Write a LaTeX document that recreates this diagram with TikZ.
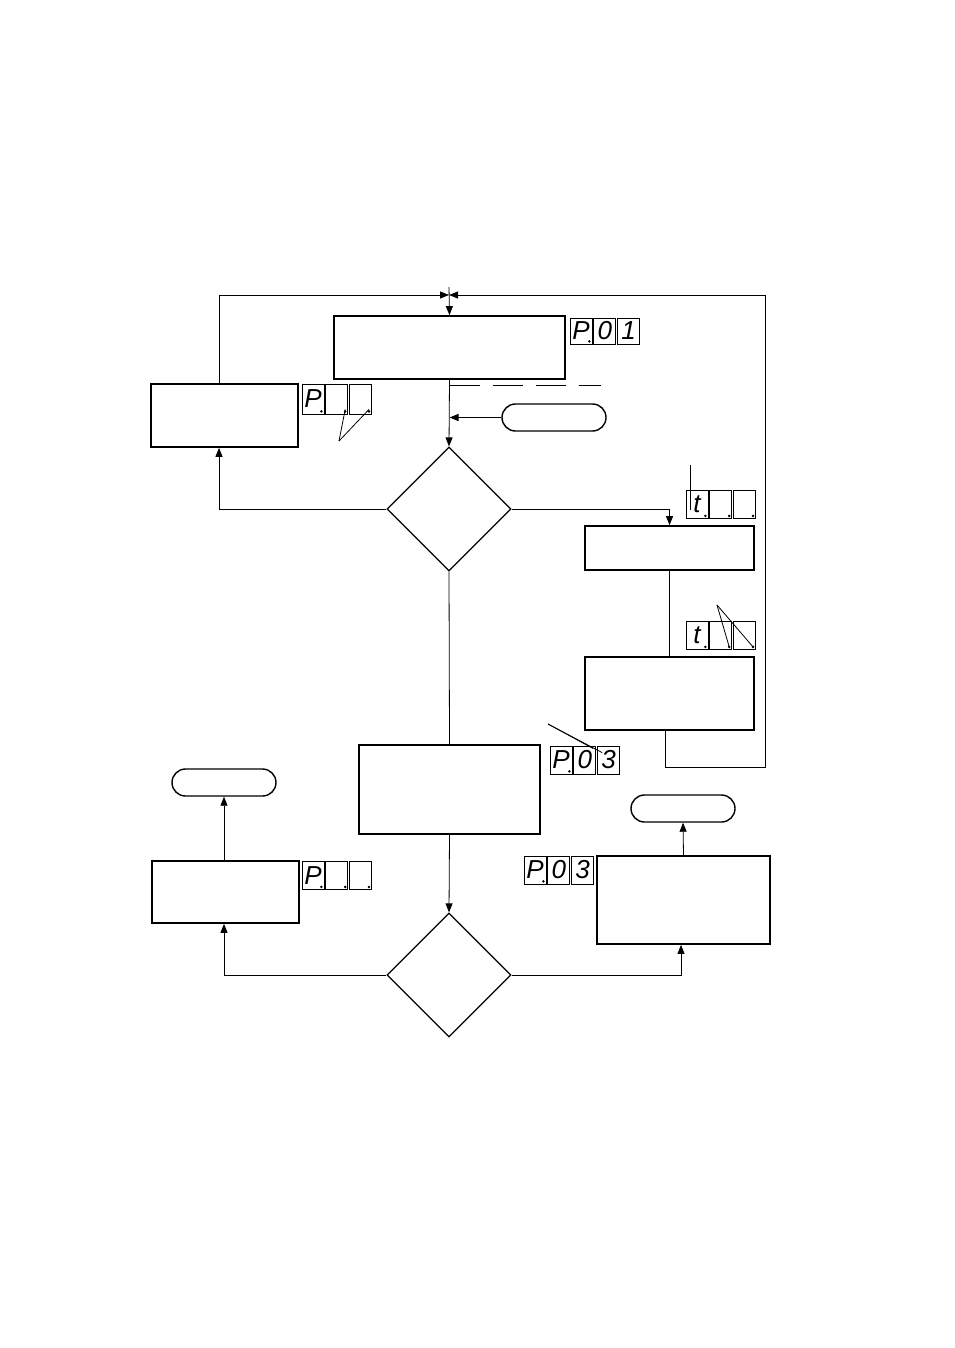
\documentclass[tikz,border=0pt]{standalone}
\usepackage{fontspec}
\setsansfont{Liberation Sans}
\usetikzlibrary{shapes.geometric,shapes.misc,arrows.meta,positioning}

\begin{document}
\begin{tikzpicture}[
  x=1pt, y=-1pt,
  box/.style={draw, line width=1.7pt, inner sep=0},
  decision/.style={diamond, draw, line width=1.2pt, aspect=1,
    minimum width=124, minimum height=124, inner sep=0},
  pill/.style={rounded rectangle, draw, line width=1.4pt,
    minimum width=104, minimum height=27, inner sep=0},
  seg/.style={draw, line width=0.8pt, minimum width=22, minimum height=28,
    inner sep=0, font=\fontsize{26}{26}\selectfont\sffamily\itshape},
  arr/.style={-{Triangle[length=9pt,width=7pt]}, line width=0.8pt},
  line/.style={line width=0.8pt}
]
  \useasboundingbox (0,0) rectangle (954,1348);

  % boxes
  \node[box, minimum width=231, minimum height=63] (start) at (449.5,347.5) {};
  \node[box, minimum width=147, minimum height=63] (back) at (224.5,415.5) {};
  \node[box, minimum width=169, minimum height=44] (set1) at (669.5,548) {};
  \node[box, minimum width=169, minimum height=73] (set2) at (669.5,693.5) {};
  \node[box, minimum width=181, minimum height=89] (mid) at (449.5,789.5) {};
  \node[box, minimum width=147, minimum height=62] (fail) at (225.5,892) {};
  \node[box, minimum width=173, minimum height=88] (done) at (683.5,900) {};
  \node[decision] (dec1) at (449,509) {};
  \node[decision] (dec2) at (449,975) {};
  \node[pill] (key) at (554,417.5) {};
  \node[pill] (lend) at (224,782.5) {};
  \node[pill] (rend) at (683,808.5) {};

  % displays
  \node[seg, minimum height=26] (pa) at (581,331) {P};
  \node[seg, minimum height=26, right=1 of pa] (pb) {0};
  \node[seg, minimum height=26, right=1 of pb] (pc) {1};
  \node[seg, minimum height=30] (qa) at (313,399) {P};
  \node[seg, minimum height=30, right=1 of qa] (qb) {};
  \node[seg, minimum height=30, right=1 of qb] (qc) {};
  \node[seg] (ta) at (697,504.5) {t};
  \node[seg, right=1 of ta] (tb) {};
  \node[seg, right=1 of tb] (tc) {};
  \node[seg] (ua) at (697,635.5) {t};
  \node[seg, right=1 of ua] (ub) {};
  \node[seg, right=1 of ub] (uc) {};
  \node[seg] (ra) at (561,760) {P};
  \node[seg, right=1 of ra] (rb) {0};
  \node[seg, right=1 of rb] (rc) {3};
  \node[seg] (sa) at (313,875.5) {P};
  \node[seg, right=1 of sa] (sb) {};
  \node[seg, right=1 of sb] (sc) {};
  \node[seg] (va) at (535,870) {P};
  \node[seg, right=1 of va] (vb) {0};
  \node[seg, right=1 of vb] (vc) {3};
  \foreach \c in {pa,qa,qb,qc,ta,tb,tc,ua,ub,uc,ra,sa,sb,sc,va}
    \fill ([shift={(-3,-3)}]\c.south east) circle (1.4);

  % pointers
  \coordinate (qp) at (339,441);
  \draw[line] (qp) -- ([shift={(-3,-5)}]qb.south east);
  \draw[line] (qp) -- ([shift={(-3,-5)}]qc.south east);
  \coordinate (tp) at (690,465);
  \draw[line] (tp) -- (690,510);
  \coordinate (up) at (717,605);
  \draw[line] (up) -- ([shift={(-3,-3)}]ub.south east);
  \draw[line] (up) -- ([shift={(-3,-3)}]uc.south east);
  \coordinate (rp) at (548,724);
  \draw[line] (rp) -- ([shift={(-4,3)}]rc.north west);
  \draw[line] (rp) -- ([shift={(5,7)}]rc.north west);

  % connectors
  \coordinate (merge) at (449,295);
  \coordinate (rloop) at (765,767);
  \draw[arr] ([xshift=-5.5pt]back.north) |- (merge);
  \draw[arr] ([xshift=-4.5pt]set2.south) |- (rloop) |- (merge);
  \draw[arr] ([yshift=8pt]merge) -- (start.north);
  \draw[arr] (start.south) -- (dec1.north);
  \draw[line, dash pattern=on 30pt off 13pt] ([yshift=-6pt]start.south) -- ++(151,0);
  \draw[arr] (key.west) -- (key.west -| start.south);
  \draw[arr] (dec1.west) -| ([xshift=-5.5pt]back.south);
  \draw[arr] (dec1.east) -| (set1.north);
  \draw[line] (set1.south) -- (set2.north);
  \draw[line] (dec1.south) -- (mid.north);
  \draw[arr] (mid.south) -- (dec2.north);
  \draw[arr] (dec2.west) -| ([xshift=-1.5pt]fail.south);
  \draw[arr] ([xshift=-1.5pt]fail.north) -- (lend.south);
  \draw[arr] (dec2.east) -| ([xshift=-2.5pt]done.south);
  \draw[arr] (done.north) -- (rend.south);
\end{tikzpicture}
\end{document}
